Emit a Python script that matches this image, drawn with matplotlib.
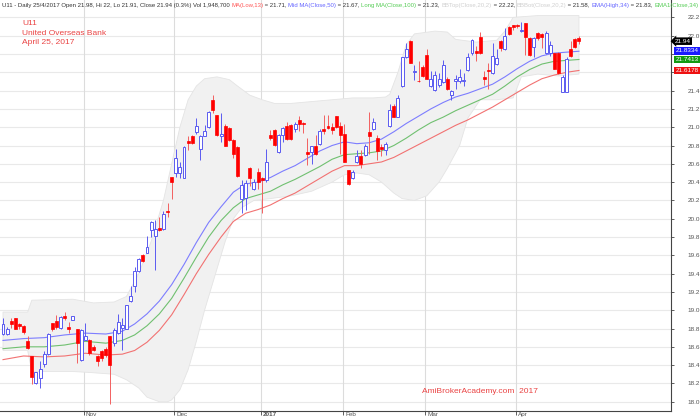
import numpy as np
import matplotlib.pyplot as plt
import matplotlib.transforms as mtransforms

plt.rcParams['font.family'] = ['Liberation Sans', 'DejaVu Sans']

# --- daily OHLC (Oct 2016 .. 25 Apr 2017) ---
opens = [18.74, 18.74, 18.88, 18.91, 18.85, 18.83, 18.66, 18.50, 18.20, 18.26,
         18.41, 18.52, 18.86, 18.88, 18.81, 18.94, 18.82, 18.89, 18.80, 18.46,
         18.68, 18.68, 18.60, 18.50, 18.55, 18.58, 18.72, 18.64, 18.75, 18.81,
         18.80, 19.10, 19.26, 19.43, 19.60, 19.63, 19.88, 19.81, 19.90, 19.89,
         20.08, 20.46, 20.50, 20.50, 20.45, 20.85, 20.90, 20.95, 20.76, 20.90,
         21.00, 21.30, 21.13, 20.90, 21.01, 20.99, 20.86, 20.78, 20.22, 20.23,
         20.55, 20.33, 20.51, 20.44, 20.42, 20.92, 20.97, 20.73, 20.91, 21.01,
         21.02, 20.98, 21.08, 21.05, 20.73, 20.73, 20.79, 20.82, 20.98, 21.01,
         21.00, 21.12, 21.01, 20.93, 20.53, 20.44, 20.62, 20.69, 20.70, 20.95,
         20.98, 20.88, 20.78, 20.75, 21.01, 21.23, 21.11, 21.45, 21.77, 21.94,
         21.60, 21.51, 21.66, 21.79, 21.45, 21.41, 21.46, 21.49, 21.53, 21.35,
         21.51, 21.50, 21.50, 21.62, 21.81, 21.83, 21.99, 21.55, 21.63, 21.59,
         21.69, 21.94, 21.85, 22.10, 22.12, 22.12, 22.05, 22.14, 21.97, 21.88,
         22.03, 22.02, 21.81, 21.81, 21.81, 21.81, 21.39, 21.39, 21.85, 21.96,
         21.98]
highs = [18.92, 18.82, 18.91, 18.92, 18.86, 18.84, 18.72, 18.50, 18.33, 18.44,
         18.55, 18.75, 18.86, 18.95, 18.94, 18.98, 18.87, 18.94, 18.80, 18.80,
         18.86, 18.69, 18.62, 18.51, 18.56, 18.60, 18.72, 18.81, 18.96, 18.91,
         19.06, 19.26, 19.47, 19.57, 19.61, 19.81, 19.97, 19.99, 20.02, 20.08,
         20.17, 20.46, 20.76, 20.62, 20.79, 20.90, 20.91, 21.10, 20.91, 21.02,
         21.18, 21.35, 21.13, 21.15, 21.04, 21.00, 20.87, 20.79, 20.42, 20.42,
         20.56, 20.43, 20.55, 20.46, 20.76, 20.97, 20.98, 20.93, 21.00, 21.06,
         21.04, 21.06, 21.12, 21.06, 20.88, 20.80, 20.91, 20.98, 21.13, 21.13,
         21.05, 21.12, 21.06, 21.04, 20.53, 20.53, 20.75, 20.75, 20.82, 21.17,
         21.10, 20.91, 20.82, 20.84, 21.25, 21.25, 21.35, 21.77, 21.92, 21.95,
         21.68, 21.72, 21.68, 21.85, 21.61, 21.61, 21.59, 21.73, 21.55, 21.41,
         21.57, 21.64, 21.59, 21.81, 21.96, 21.89, 22.04, 21.61, 21.70, 21.92,
         21.86, 21.95, 22.08, 22.11, 22.12, 22.13, 22.15, 22.14, 21.99, 21.99,
         22.04, 22.03, 22.05, 21.94, 21.81, 21.82, 21.57, 21.77, 21.94, 21.97,
         22.00]
lows = [18.73, 18.73, 18.81, 18.79, 18.79, 18.74, 18.58, 18.19, 18.19, 18.15,
        18.38, 18.51, 18.77, 18.80, 18.79, 18.89, 18.75, 18.89, 18.42, 18.44,
        18.67, 18.51, 18.55, 18.39, 18.44, 18.49, 17.98, 18.61, 18.74, 18.57,
        18.79, 19.09, 19.20, 19.42, 19.53, 19.62, 19.80, 19.44, 19.87, 19.88,
        20.02, 20.22, 20.46, 20.45, 20.44, 20.75, 20.82, 20.93, 20.64, 20.90,
        20.99, 21.15, 20.90, 20.84, 20.79, 20.85, 20.66, 20.46, 20.06, 20.10,
        20.36, 20.31, 20.33, 20.06, 20.40, 20.86, 20.79, 20.72, 20.84, 20.86,
        20.86, 20.95, 20.96, 20.94, 20.59, 20.60, 20.70, 20.81, 20.93, 20.98,
        20.93, 20.99, 20.71, 20.62, 20.37, 20.43, 20.61, 20.55, 20.68, 20.71,
        20.97, 20.64, 20.68, 20.70, 21.00, 21.11, 21.11, 21.44, 21.76, 21.70,
        21.52, 21.49, 21.55, 21.53, 21.44, 21.40, 21.44, 21.48, 21.41, 21.30,
        21.42, 21.48, 21.45, 21.61, 21.79, 21.72, 21.80, 21.46, 21.42, 21.58,
        21.68, 21.83, 21.84, 22.01, 22.06, 22.08, 22.04, 21.79, 21.78, 21.77,
        21.95, 21.87, 21.80, 21.78, 21.64, 21.58, 21.38, 21.38, 21.77, 21.87,
        21.91]
closes = [18.85, 18.79, 18.85, 18.80, 18.83, 18.76, 18.59, 18.27, 18.32, 18.36,
          18.52, 18.74, 18.80, 18.82, 18.93, 18.91, 18.80, 18.94, 18.64, 18.78,
          18.72, 18.53, 18.56, 18.44, 18.48, 18.51, 18.40, 18.78, 18.87, 18.84,
          19.06, 19.16, 19.43, 19.56, 19.54, 19.69, 19.96, 19.89, 19.88, 20.05,
          20.07, 20.40, 20.66, 20.56, 20.78, 20.83, 20.83, 21.01, 20.90, 20.96,
          21.17, 21.19, 20.91, 20.93, 20.79, 20.86, 20.71, 20.47, 20.37, 20.39,
          20.44, 20.40, 20.40, 20.42, 20.62, 20.88, 20.81, 20.91, 20.99, 20.87,
          20.87, 21.03, 21.03, 21.03, 20.71, 20.79, 20.71, 20.96, 20.96, 20.99,
          20.97, 21.00, 20.91, 20.62, 20.38, 20.51, 20.69, 20.60, 20.79, 20.90,
          21.06, 20.74, 20.76, 20.82, 21.19, 21.11, 21.32, 21.77, 21.85, 21.70,
          21.61, 21.50, 21.56, 21.53, 21.53, 21.57, 21.53, 21.68, 21.42, 21.40,
          21.53, 21.55, 21.52, 21.77, 21.95, 21.81, 21.81, 21.53, 21.61, 21.78,
          21.76, 21.87, 22.00, 22.02, 22.10, 22.11, 22.06, 21.99, 21.79, 21.98,
          21.97, 21.99, 22.03, 21.90, 21.64, 21.59, 21.55, 21.75, 21.78, 21.88,
          21.94]

month_idx = [20, 42, 63, 83, 103, 125]
month_lbl = ['Nov', 'Dec', '2017', 'Feb', 'Mar', 'Apr']

# EMA channel (High / Close / Low, 34) sampled off the chart
ema_idx = [0, 5, 10, 15, 20, 25, 29, 32, 35, 38, 41, 44, 47, 50, 53, 56, 59, 62, 65, 68,
           71, 74, 77, 80, 83, 86, 89, 92, 95, 98, 101, 104, 107, 110, 113, 116, 119,
           122, 125, 128, 131, 134, 137, 140]
ema_high = [18.67, 18.69, 18.70, 18.73, 18.75, 18.74, 18.77, 18.85, 18.96, 19.10,
            19.28, 19.50, 19.74, 19.96, 20.13, 20.29, 20.38, 20.40, 20.45, 20.52,
            20.58, 20.66, 20.74, 20.80, 20.84, 20.82, 20.83, 20.87, 20.95, 21.04,
            21.12, 21.20, 21.27, 21.33, 21.37, 21.42, 21.47, 21.55, 21.64, 21.72,
            21.78, 21.81, 21.82, 21.83]
ema_close = [18.58, 18.60, 18.60, 18.62, 18.66, 18.64, 18.67, 18.73, 18.83, 18.96,
             19.13, 19.35, 19.58, 19.80, 19.98, 20.12, 20.22, 20.26, 20.30, 20.37,
             20.43, 20.50, 20.57, 20.65, 20.70, 20.71, 20.72, 20.74, 20.80, 20.88,
             20.97, 21.05, 21.11, 21.18, 21.24, 21.30, 21.36, 21.45, 21.55, 21.63,
             21.69, 21.72, 21.73, 21.74]
ema_low = [18.46, 18.50, 18.49, 18.50, 18.53, 18.51, 18.52, 18.56, 18.65, 18.78,
           18.95, 19.17, 19.40, 19.61, 19.80, 19.97, 20.06, 20.10, 20.15, 20.22,
           20.28, 20.36, 20.44, 20.52, 20.58, 20.58, 20.60, 20.62, 20.67, 20.74,
           20.81, 20.88, 20.95, 21.02, 21.08, 21.15, 21.22, 21.30, 21.38, 21.46,
           21.53, 21.57, 21.60, 21.62]

# Bollinger band (Close, 20, 2) edges sampled off the chart
bb_top_idx = [0, 6, 7, 17, 22, 27, 30, 33, 36, 39, 41, 43, 45, 47, 49, 52, 55, 57, 60, 63,
              66, 70, 75, 80, 85, 90, 93, 94, 96, 98, 100, 105, 108, 110, 115, 120, 122,
              124, 130, 135, 140]
bb_top = [18.98, 18.98, 19.11, 19.12, 19.08, 19.09, 19.15, 19.40, 19.75, 20.20,
          20.60, 21.00, 21.30, 21.45, 21.53, 21.55, 21.52, 21.45, 21.35, 21.30,
          21.26, 21.26, 21.28, 21.30, 21.32, 21.32, 21.33, 21.36, 21.60, 21.90,
          22.02, 22.05, 22.04, 21.96, 21.93, 21.95, 22.05, 22.20, 22.22, 22.22,
          22.22]
bb_bot_idx = [0, 6, 7, 12, 17, 21, 24, 27, 30, 33, 35, 38, 40, 41, 43, 45, 47, 49, 51, 54,
              56, 58, 61, 65, 70, 75, 80, 83, 86, 89, 92, 95, 97, 100, 103, 106, 108,
              111, 113, 116, 120, 124, 126, 130, 135, 140]
bb_bot = [18.56, 18.56, 18.33, 18.33, 18.33, 18.32, 18.31, 18.30, 18.24, 18.15,
          18.05, 18.00, 18.00, 18.02, 18.13, 18.35, 18.66, 19.00, 19.30, 19.75,
          20.00, 20.12, 20.20, 20.22, 20.25, 20.30, 20.40, 20.48, 20.50, 20.48,
          20.40, 20.28, 20.22, 20.20, 20.25, 20.40, 20.55, 20.80, 21.10, 21.30,
          21.30, 21.32, 21.55, 21.58, 21.56, 21.58]

# last values shown on the price axis
tag_vals = [21.94, 21.8334, 21.7413, 21.6178]
tag_text = ['21.94', '21.8334', '21.7413', '21.6178']
tag_cols = ['black', '#1a1aff', '#129a12', '#ee1111']

header = [
    ("U11 - Daily 25/4/2017 Open 21.98, Hi 22, Lo 21.91, Close 21.94 (0.3%) Vol 1,948,700 ", '#333333'),
    ("MA(Low,13)", '#ff5555'), (" = 21.71, ", '#333333'),
    ("Mid MA(Close,50)", '#6666ff'), (" = 21.67, ", '#333333'),
    ("Long MA(Close,100)", '#55cc55'), (" = 21.23, ", '#333333'),
    ("BBTop(Close,20,2)", '#d0d0d0'), (" = 22.22, ", '#333333'),
    ("BBBot(Close,20,2)", '#d0d0d0'), (" = 21.58, ", '#333333'),
    ("EMA(High,34)", '#6666ff'), (" = 21.83, ", '#333333'),
    ("EMA1(Close,34)", '#55cc55'),
]

# --- figure ---
W, H = 700, 419
Y0, Y1 = 17.902, 22.39
fig = plt.figure(figsize=(W / 100, H / 100), dpi=100)
ax = fig.add_axes([0, 8.3 / H, 670.7 / W, 1 - 8.3 / H])
ax.set_xlim(-0.73, 162.3)
ax.set_ylim(Y0, Y1)

# grid
yt = np.round(np.arange(18.0, 22.21, 0.2), 1)
for v in yt:
    ax.axhline(v, color='#e9e9e9', lw=0.8, zorder=0)
for m in month_idx:
    ax.axvline(m - 0.4, color='#dcdcdc', lw=0.8, zorder=0)

# bollinger band as one polygon
poly_x = bb_top_idx + bb_bot_idx[::-1]
poly_y = bb_top + bb_bot[::-1]
ax.fill(poly_x, poly_y, facecolor='#f1f1f1', edgecolor='#e4e4e4', lw=0.6, zorder=1)

# EMA channel
ax.plot(ema_idx, ema_high, color='#7d7dff', lw=0.8, zorder=2)
ax.plot(ema_idx, ema_close, color='#70c070', lw=0.8, zorder=2)
ax.plot(ema_idx, ema_low, color='#f27272', lw=0.8, zorder=2)

# candles
o = np.array(opens); h = np.array(highs); l = np.array(lows); c = np.array(closes)
xs = np.arange(len(o))
up = c >= o
ax.vlines(xs[up], l[up], h[up], color='#5b5bf0', lw=0.7, zorder=3)
ax.vlines(xs[~up], l[~up], h[~up], color='#f36060', lw=0.7, zorder=3)
body_lo = np.minimum(o, c)
body_h = np.maximum(np.abs(c - o), 0.006)
ax.bar(xs[up], body_h[up], bottom=body_lo[up], width=0.72,
       facecolor='white', edgecolor='#5b5bf0', lw=0.7, zorder=4)
ax.bar(xs[~up], body_h[~up], bottom=body_lo[~up], width=0.72,
       facecolor='#ff0000', edgecolor='#ff0000', lw=0.5, zorder=4)

# axes styling
for s in ['top', 'left']:
    ax.spines[s].set_visible(False)
ax.spines['right'].set_color('#444444')
ax.spines['bottom'].set_color('#444444')
ax.yaxis.tick_right()
ax.set_yticks(yt)
# the value tags cover 21.6 and 21.8 on the original
ax.set_yticklabels(['' if v in (21.6, 21.8) else f"{v:.1f}" for v in yt],
                   fontsize=4.6, color='#555555')
ax.tick_params(axis='y', length=2, width=0.6, color='#444444', pad=10)
ax.set_xticks([m - 0.4 for m in month_idx])
ax.set_xticklabels([])
ax.tick_params(axis='x', length=3, width=0.6, color='#444444')
for m, lbl in zip(month_idx, month_lbl):
    ax.text(m + 0.15, Y0 - 0.8 / 91.5, lbl, fontsize=4.6, color='#555555',
            ha='left', va='top', clip_on=False,
            fontweight='bold' if lbl == '2017' else 'normal')

# value tags on the price axis
trans = mtransforms.blended_transform_factory(ax.transAxes, ax.transData)
for k, (v, s, col) in enumerate(zip(tag_vals, tag_text, tag_cols)):
    style = 'larrow,pad=0.2' if k == 0 else 'square,pad=0.2'
    ax.text(1.006 if k == 0 else 1.007, v, s, transform=trans, fontsize=4.6,
            color='white', va='center', ha='left', clip_on=False, zorder=10,
            bbox=dict(boxstyle=style, fc=col, ec='none'))

# titles
red = '#ea4444'
ax.text(22 / 670.7, Y1 - 23 / 91.5, 'U11', color=red, fontsize=6, va='center',
        transform=trans)
ax.text(22 / 670.7, Y1 - 33 / 91.5, 'United Overseas Bank', color=red, fontsize=6,
        va='center', transform=trans)
ax.text(22 / 670.7, Y1 - 42.5 / 91.5, 'April 25, 2017', color=red, fontsize=6,
        va='center', transform=trans)
ax.text(422 / 670.7, Y1 - 391 / 91.5, 'AmiBrokerAcademy.com  2017', color=red,
        fontsize=6, va='center', transform=trans)

# header line, drawn piece by piece
fig.canvas.draw()
rend = fig.canvas.get_renderer()
xp = 2
for s, col in header:
    t = fig.text(xp / W, 1 - 5 / H, s, color=col, fontsize=4.3, va='center', ha='left')
    xp += t.get_window_extent(renderer=rend).width

fig.savefig('out.png', dpi=100)
